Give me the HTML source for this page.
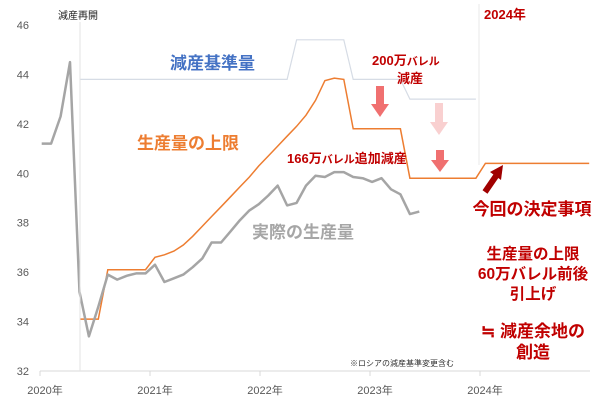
<!DOCTYPE html>
<html><head><meta charset="utf-8">
<style>
body{margin:0;background:#fff;}
svg{display:block;font-family:"Liberation Sans","Noto Sans CJK JP",sans-serif;}
</style></head>
<body>
<svg id="chart" width="600" height="400" viewBox="0 0 600 400">
<g id="axes"></g>
<g id="series"></g>
<g id="annotations">
  <line x1="80" y1="22" x2="80" y2="371" stroke="#e3e3e3" stroke-width="1"/>
  <line x1="479" y1="4" x2="479" y2="165" stroke="#e8e8e8" stroke-width="1"/>
  <text x="58" y="19" font-size="10" fill="#222">減産再開</text>
  <text x="170" y="69" font-size="17" font-weight="bold" fill="#4472c4">減産基準量</text>
  <text x="137" y="149" font-size="17" font-weight="bold" fill="#ed7d31">生産量の上限</text>
  <text x="252" y="238" font-size="17" font-weight="bold" fill="#a6a6a6">実際の生産量</text>
  <text x="287" y="163" font-size="13" font-weight="bold" fill="#c00000">166万<tspan font-size="11">バレル</tspan>追加減産</text>
  <text x="372" y="65" font-size="13" font-weight="bold" fill="#c00000">200万<tspan font-size="11">バレル</tspan></text>
  <text x="410" y="83" font-size="13" font-weight="bold" fill="#c00000" text-anchor="middle">減産</text>
  <text x="484" y="19" font-size="13" font-weight="bold" fill="#c00000">2024年</text>
  <g fill="#f07070"><rect x="376" y="86" width="8" height="18"/><polygon points="371,104 389,104 380,117"/></g>
  <g fill="#f9d0d0"><rect x="435" y="103" width="8" height="19"/><polygon points="430,122 448,122 439,135"/></g>
  <g fill="#f07070"><rect x="436" y="150" width="8" height="10"/><polygon points="431,160 449,160 440,172"/></g>
  <g fill="#a00000"><line x1="485" y1="192" x2="496" y2="176" stroke="#a00000" stroke-width="6"/><polygon points="490,172 503,165 501,180"/></g>
  <text x="532" y="215" font-size="17" font-weight="bold" fill="#c00000" text-anchor="middle">今回の決定事項</text>
  <text x="533" y="259" font-size="15.5" font-weight="bold" fill="#c00000" text-anchor="middle">生産量の上限</text>
  <text x="533" y="279" font-size="15.5" font-weight="bold" fill="#c00000" text-anchor="middle">60万バレル前後</text>
  <text x="533" y="299" font-size="15.5" font-weight="bold" fill="#c00000" text-anchor="middle">引上げ</text>
  <text x="533" y="337" font-size="17" font-weight="bold" fill="#c00000" text-anchor="middle">≒ 減産余地の</text>
  <text x="533" y="358" font-size="17" font-weight="bold" fill="#c00000" text-anchor="middle">創造</text>
  <text x="350" y="366" font-size="8" fill="#333">※ロシアの減産基準変更含む</text>
</g>
<script>
const yTicks = [32, 34, 36, 38, 40, 42, 44, 46];
const years = [2020, 2021, 2022, 2023, 2024];
const actual = [41.2,41.2,42.3,44.5,35.2,33.4,34.6,35.9,35.7,35.85,35.95,35.95,36.3,35.6,35.75,35.9,36.2,36.55,37.2,37.2,37.65,38.1,38.5,38.75,39.1,39.5,38.7,38.8,39.5,39.9,39.85,40.05,40.05,39.85,39.8,39.65,39.8,39.35,39.15,38.35,38.45];
const capStart = 4;
const cap = [34.1,34.1,34.1,36.1,36.1,36.1,36.1,36.1,36.6,36.7,36.85,37.1,37.45,37.85,38.25,38.65,39.05,39.45,39.85,40.3,40.7,41.1,41.5,41.9,42.35,42.95,43.75,43.85,43.8,41.8,41.8,41.8,41.8,41.8,41.8,39.8,39.8,39.8,39.8,39.8,39.8,39.8,39.8,40.4,40.4,40.4,40.4,40.4,40.4,40.4,40.4,40.4,40.4,40.4,40.4];
const baseStart = 4;
const baseline = [43.8,43.8,43.8,43.8,43.8,43.8,43.8,43.8,43.8,43.8,43.8,43.8,43.8,43.8,43.8,43.8,43.8,43.8,43.8,43.8,43.8,43.8,43.8,45.4,45.4,45.4,45.4,45.4,45.4,43.8,43.8,43.8,43.8,43.8,43.8,43.0,43.0,43.0,43.0,43.0,43.0,43.0,43.0];

const NS = "http://www.w3.org/2000/svg";
function yS(v){ return 371 - (v - 32) * (346 / 14); }
function xS(i){ return 41.7 + i * 9.44; }
function xYear(y){ return 40 + (y - 2020) * 110; }
function mk(tag, attrs, parent){ const e = document.createElementNS(NS, tag); for (const k in attrs) e.setAttribute(k, attrs[k]); parent.appendChild(e); return e; }

const axes = document.getElementById('axes');
const xAxis = mk('line', {x1:40, y1:371, x2:590, y2:371, stroke:'#d9d9d9', 'stroke-width':1}, axes);


yTicks.forEach(v => {
  const t = mk('text', {x:29, y:yS(v)+4, 'font-size':11, fill:'#595959', 'text-anchor':'end'}, axes);
  t.textContent = v;
  
  
});
years.forEach(y => {
  const tk = mk('line', {x1:xYear(y), y1:371, x2:xYear(y), y2:376, stroke:'#d9d9d9'}, axes);
  
  
});
years.forEach(y => {
  const t = mk('text', {x:xYear(y)+5, y:394, 'font-size':11, fill:'#595959', 'text-anchor':'middle'}, axes);
  t.textContent = y + '年';
  
  
});

const series = document.getElementById('series');
function pts(arr, start){ return arr.map((v,i) => xS(i+start).toFixed(1) + ',' + yS(v).toFixed(1)).join(' '); }
const b = mk('polyline', {points:pts(baseline, baseStart), fill:'none', stroke:'#d6dce5', 'stroke-width':1.2}, series);


const c = mk('polyline', {points:pts(cap, capStart), fill:'none', stroke:'#ed7d31', 'stroke-width':1.5}, series);


const a = mk('polyline', {points:pts(actual, 0), fill:'none', stroke:'#a5a5a5', 'stroke-width':2.5, 'stroke-linejoin':'round'}, series);


</script>
</svg>
</body></html>
